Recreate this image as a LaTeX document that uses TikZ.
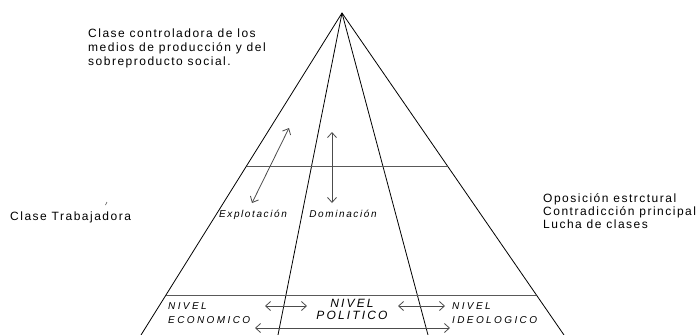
\documentclass[tikz,border=0pt]{standalone}
\usepackage{fontspec}
\setmainfont{Liberation Sans}
\newfontfamily\spfont[LetterSpace=12.5]{Liberation Sans}
\newfontfamily\ecofont[LetterSpace=24]{Liberation Sans}
\newfontfamily\polfont[LetterSpace=18]{Liberation Sans}
\newfontfamily\arrfont[LetterSpace=16]{Liberation Sans}
\usetikzlibrary{arrows.meta,calc}
\begin{document}
\begin{tikzpicture}[x=1pt,y=-1pt,
  pyr/.style={draw=black,line width=0.8pt},
  hline/.style={draw=black!65,line width=0.9pt},
  dbl/.style={draw=black!70,line width=0.8pt,{Straight Barb[length=5pt,width=9pt]}-{Straight Barb[length=5pt,width=9pt]}},
  txt/.style={inner sep=0pt,font=\spfont\fontsize{12}{14}\selectfont,align=left},
  lvl/.style={inner sep=0pt,font=\ecofont\itshape\fontsize{10}{14}\selectfont,align=left},
  lvlc/.style={inner sep=0pt,font=\polfont\itshape\fontsize{12}{12}\selectfont,align=center},
  arr/.style={inner sep=0pt,font=\arrfont\itshape\fontsize{10}{12}\selectfont}]
\useasboundingbox (0,0) rectangle (697,335);
% pyramid
\coordinate (apex) at (342,13);
\coordinate (bl) at (141,335);
\coordinate (br) at (564,335);
\coordinate (il) at (278,335);
\coordinate (ir) at (428,335);
\draw[pyr] (bl) -- (apex) -- (br);
\draw[pyr] (apex) -- (il);
\draw[pyr] (apex) -- (ir);
\draw[hline] ($(apex)!0.475!(bl)$) -- ($(apex)!0.475!(br)$);
\draw[hline] ($(apex)!0.876!(bl)$) -- ($(apex)!0.876!(br)$);
% texts
\node[txt,anchor=west] (top) at (88,48) {Clase controladora de los\\medios de producción y del\\sobreproducto social.};
\node[txt,anchor=west] (trab) at (10,217) {Clase Trabajadora};
\draw[black!70,line width=0.6pt] (105.5,205) -- (107,202);
\node[txt,anchor=west,font=\spfont\fontsize{12}{13}\selectfont] (opo) at (543,211) {Oposición estrctural\\Contradicción principal\\Lucha de clases};
% middle arrows
\node[arr] (expl) at (253,215) {Explotación};
\node[arr] (dom) at (343,214) {Dominación};
\coordinate (e1) at (289,128);
\coordinate (e2) at (252,203);
\coordinate (d1) at (332,132);
\coordinate (d2) at (332,203);
\draw[dbl] (e1) -- (e2);
\draw[dbl] (d1) -- (d2);
% levels
\node[lvl,anchor=west] (eco) at (168,313) {NIVEL\\ECONOMICO};
\node[lvlc] (pol) at (352,309) {NIVEL\\POLITICO};
\node[lvl,anchor=west] (ideo) at (452,313) {NIVEL\\IDEOLOGICO};
\coordinate (a1) at (265,306);
\coordinate (a2) at (307,306);
\coordinate (b1) at (398,306);
\coordinate (b2) at (445,306);
\coordinate (c1) at (255,328);
\coordinate (c2) at (450,328);
\draw[dbl] (a1) -- (a2);
\draw[dbl] (b1) -- (b2);
\draw[dbl] (c1) -- (c2);
\end{tikzpicture}
\end{document}
